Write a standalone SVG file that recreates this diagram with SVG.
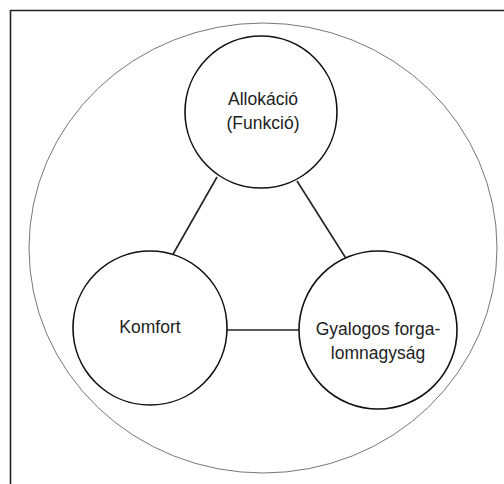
<svg xmlns="http://www.w3.org/2000/svg" width="504" height="484" viewBox="0 0 504 484">
<style>
.node{fill:#fff;stroke:#111;stroke-width:1.6}
.lbl{font-family:"Liberation Sans",Arial,sans-serif;font-size:17.5px;fill:#222;text-anchor:middle}
.conn line{stroke:#222;stroke-width:1.6}
</style>
<rect x="0" y="0" width="504" height="484" fill="#fff"/>
<path id="frame" d="M10.5,484 V10.5 H504" fill="none" stroke="#222" stroke-width="1.6"/>
<ellipse id="outer" cx="263" cy="248" rx="234" ry="225" fill="none" stroke="#777" stroke-width="1"/>
<g class="conn" id="connectors">
<line x1="217" y1="177" x2="172" y2="256"/>
<line x1="297" y1="181" x2="347" y2="260"/>
<line x1="227" y1="330" x2="299" y2="330"/>
</g>
<g id="allokacio">
<circle class="node" cx="261" cy="112" r="76"/>
<text class="lbl" x="263" y="105">Allokáció</text>
<text class="lbl" x="263" y="129">(Funkció)</text>
</g>
<g id="komfort">
<circle class="node" cx="150" cy="328" r="77"/>
<text class="lbl" x="150" y="333">Komfort</text>
</g>
<g id="gyalogos">
<circle class="node" cx="378" cy="330" r="79"/>
<text class="lbl" x="378" y="335">Gyalogos forga-</text>
<text class="lbl" x="378" y="359">lomnagyság</text>
</g>
</svg>
